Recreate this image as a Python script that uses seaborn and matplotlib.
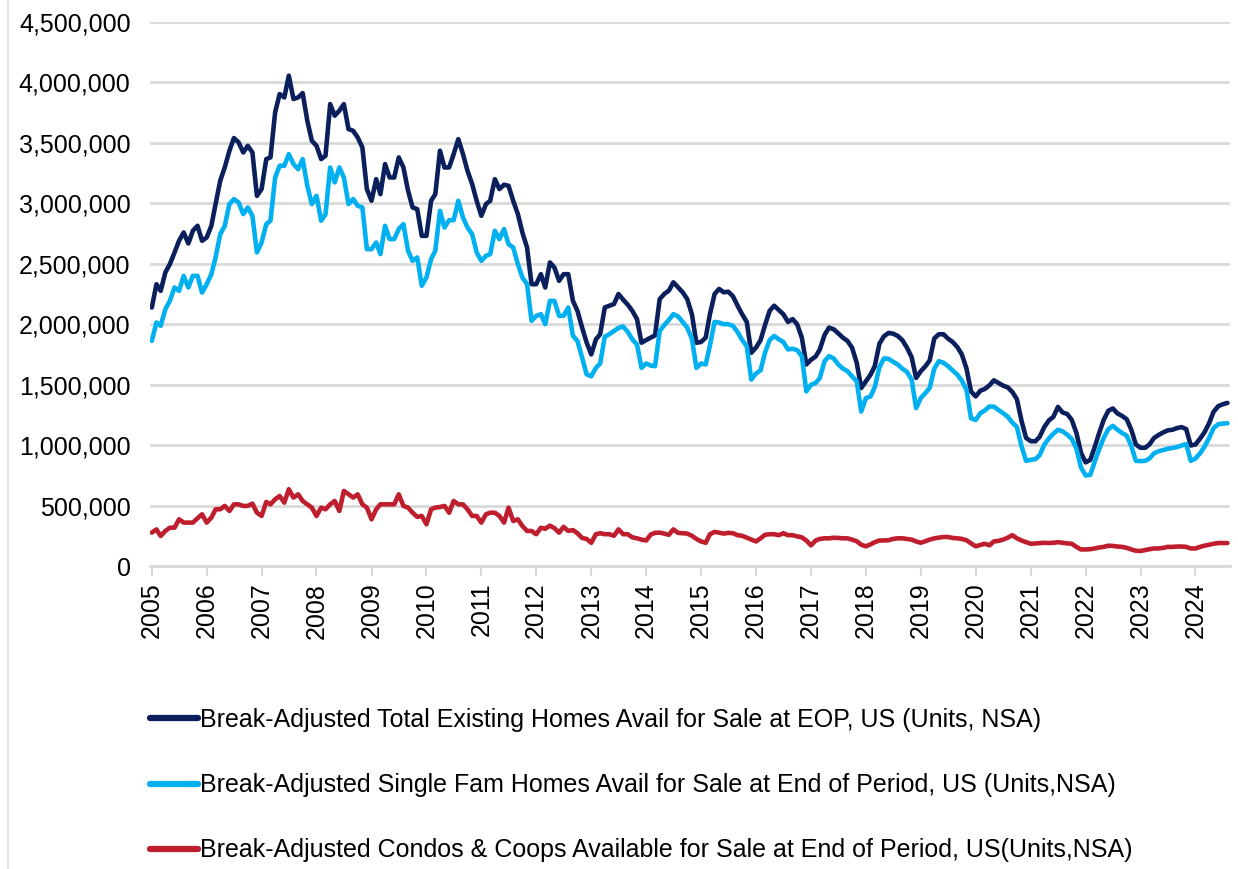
import numpy as np
import pandas as pd
import matplotlib
matplotlib.use("Agg")
import matplotlib.pyplot as plt
import seaborn as sns
from matplotlib.ticker import FuncFormatter
from matplotlib.lines import Line2D

# ---------------- data (thousands of units, monthly from Jan 2005) ----------------
first_month = "2005-01-01"

total_k = [
    2138, 2331, 2276, 2428, 2497, 2593, 2690, 2759, 2668, 2773, 2814, 2690,  # 2005
    2718, 2814, 2994, 3187, 3297, 3435, 3540, 3504, 3421, 3476, 3421, 3062,  # 2006
    3118, 3366, 3380, 3752, 3904, 3876, 4056, 3863, 3876, 3912, 3683, 3518,  # 2007
    3476, 3366, 3394, 3821, 3725, 3766, 3821, 3614, 3600, 3545, 3463, 3118,  # 2008
    3021, 3200, 3076, 3325, 3214, 3214, 3380, 3297, 3104, 2966, 2952, 2731,  # 2009
    2731, 3021, 3076, 3435, 3297, 3297, 3407, 3531, 3407, 3269, 3159, 3021,  # 2010
    2897, 2994, 3021, 3200, 3118, 3154, 3145, 3021, 2911, 2759, 2635, 2331,  # 2011
    2331, 2414, 2304, 2511, 2469, 2359, 2414, 2414, 2193, 2111, 1973, 1849,  # 2012
    1750, 1875, 1917, 2139, 2153, 2167, 2250, 2203, 2161, 2111, 2042, 1847,  # 2013
    1869, 1889, 1908, 2208, 2250, 2278, 2347, 2306, 2264, 2208, 2083, 1847,  # 2014
    1853, 1889, 2083, 2250, 2292, 2264, 2269, 2231, 2153, 2083, 2019, 1764,  # 2015
    1806, 1869, 1992, 2111, 2153, 2117, 2083, 2019, 2042, 2000, 1889, 1667,  # 2016
    1706, 1733, 1792, 1911, 1972, 1958, 1925, 1889, 1861, 1806, 1681, 1472,  # 2017
    1528, 1583, 1653, 1839, 1900, 1928, 1922, 1903, 1867, 1806, 1728, 1556,  # 2018
    1611, 1653, 1700, 1883, 1917, 1917, 1881, 1853, 1811, 1750, 1633, 1444,  # 2019
    1403, 1450, 1464, 1494, 1536, 1514, 1492, 1478, 1439, 1380, 1200, 1060,  # 2020
    1032, 1032, 1068, 1149, 1203, 1235, 1316, 1270, 1257, 1208, 1100, 938,   # 2021
    857, 878, 978, 1100, 1208, 1284, 1303, 1262, 1241, 1214, 1127, 1005,     # 2022
    978, 978, 1005, 1059, 1084, 1105, 1122, 1127, 1141, 1149, 1132, 997,     # 2023
    1005, 1054, 1105, 1181, 1276, 1322, 1338, 1349,                          # 2024
]

single_k = [
    1862, 2014, 1987, 2124, 2193, 2304, 2276, 2400, 2304, 2400, 2400, 2262,  # 2005
    2331, 2414, 2552, 2745, 2814, 2994, 3035, 3007, 2911, 2966, 2897, 2594,  # 2006
    2676, 2828, 2856, 3214, 3311, 3311, 3407, 3325, 3283, 3366, 3145, 2994,  # 2007
    3062, 2856, 2911, 3297, 3173, 3297, 3214, 2994, 3035, 2980, 2966, 2621,  # 2008
    2621, 2676, 2580, 2814, 2704, 2704, 2787, 2828, 2607, 2524, 2552, 2318,  # 2009
    2387, 2538, 2607, 2938, 2800, 2861, 2861, 3021, 2883, 2800, 2745, 2594,  # 2010
    2524, 2566, 2580, 2773, 2704, 2787, 2662, 2635, 2497, 2387, 2331, 2028,  # 2011
    2069, 2083, 2000, 2193, 2193, 2069, 2069, 2138, 1904, 1862, 1724, 1586,  # 2012
    1569, 1639, 1675, 1897, 1917, 1944, 1969, 1981, 1936, 1875, 1833, 1639,  # 2013
    1675, 1658, 1653, 1944, 1992, 2036, 2083, 2064, 2019, 1972, 1880, 1639,  # 2014
    1675, 1667, 1825, 2019, 2014, 2000, 2000, 1986, 1936, 1869, 1819, 1542,  # 2015
    1592, 1619, 1764, 1869, 1903, 1875, 1853, 1792, 1797, 1786, 1736, 1444,  # 2016
    1500, 1514, 1556, 1694, 1736, 1717, 1667, 1633, 1611, 1569, 1528, 1278,  # 2017
    1389, 1403, 1480, 1644, 1717, 1714, 1689, 1667, 1631, 1606, 1542, 1306,  # 2018
    1389, 1431, 1472, 1633, 1694, 1681, 1653, 1617, 1583, 1533, 1458, 1222,  # 2019
    1208, 1264, 1286, 1319, 1319, 1290, 1265, 1235, 1186, 1150, 990, 870,    # 2020
    878, 884, 916, 1003, 1054, 1095, 1127, 1114, 1086, 1051, 970, 816,       # 2021
    749, 754, 857, 965, 1059, 1132, 1159, 1127, 1100, 1078, 992, 870,        # 2022
    868, 870, 889, 932, 949, 959, 970, 976, 984, 997, 1008, 870,             # 2023
    889, 932, 986, 1059, 1141, 1173, 1178, 1181,                             # 2024
]

condo_k = [
    276, 303, 248, 290, 317, 317, 386, 359, 359, 359, 395, 428,  # 2005
    359, 400, 469, 469, 497, 455, 510, 510, 497, 497, 516, 441,  # 2006
    414, 530, 510, 552, 579, 524, 635, 566, 593, 538, 510, 483,  # 2007
    414, 483, 469, 510, 538, 455, 621, 593, 566, 593, 510, 483,  # 2008
    386, 469, 510, 510, 510, 510, 593, 497, 483, 441, 406, 414,  # 2009
    345, 469, 483, 488, 497, 441, 538, 510, 510, 469, 414, 414,  # 2010
    359, 428, 441, 441, 414, 359, 483, 372, 386, 331, 290, 290,  # 2011
    263, 316, 308, 334, 313, 276, 324, 290, 297, 271, 232, 224,  # 2012
    192, 263, 271, 263, 263, 250, 303, 263, 263, 237, 229, 218,  # 2013
    211, 261, 274, 276, 268, 258, 303, 274, 271, 268, 250, 224,  # 2014
    203, 192, 263, 282, 276, 268, 274, 271, 255, 250, 234, 218,  # 2015
    203, 229, 258, 263, 263, 255, 271, 255, 255, 245, 237, 211,  # 2016
    171, 211, 224, 229, 229, 234, 232, 229, 229, 218, 205, 176,  # 2017
    163, 179, 197, 211, 211, 213, 224, 229, 229, 224, 218, 203,  # 2018
    192, 205, 218, 229, 234, 240, 240, 232, 229, 224, 213, 187,  # 2019
    163, 174, 184, 171, 203, 208, 218, 234, 255, 229, 211, 197,  # 2020
    184, 187, 190, 192, 190, 192, 197, 192, 187, 184, 158, 137,  # 2021
    137, 139, 145, 153, 158, 168, 166, 161, 158, 150, 137, 126,  # 2022
    124, 132, 139, 145, 145, 150, 158, 158, 161, 161, 158, 145,  # 2023
    145, 158, 168, 176, 184, 190, 190, 190,                      # 2024
]

series_labels = [
    "Break-Adjusted Total Existing Homes Avail for Sale at EOP, US (Units, NSA)",
    "Break-Adjusted Single Fam Homes Avail for Sale at End of Period, US (Units,NSA)",
    "Break-Adjusted Condos & Coops Available for Sale at End of Period, US(Units,NSA)",
]
series_colors = ["#0A1F5C", "#00B0F0", "#BE1E2D"]
year_ticks = list(range(2005, 2025))
y_ticks = list(range(0, 4500001, 500000))

# ---------------- build long-form frame ----------------
n = len(total_k)
dates = pd.date_range(first_month, periods=n, freq="MS")
df = pd.DataFrame({
    "date": np.concatenate([dates, dates, dates]),
    "value": np.concatenate([total_k, single_k, condo_k]).astype(float) * 1000,
    "series": np.repeat(series_labels, n),
})

# ---------------- style ----------------
sns.set_theme(style="white")
plt.rcParams["font.family"] = ["Liberation Sans", "DejaVu Sans"]
FS = 18

fig = plt.figure(figsize=(12.38, 8.69), dpi=100)
W, H = 1238, 869
ax = fig.add_axes([150 / W, 1 - 566 / H, (1230 - 150) / W, (566 - 22) / H])

sns.lineplot(data=df, x="date", y="value", hue="series", hue_order=series_labels,
             palette=series_colors, linewidth=3.3, estimator=None, legend=False, ax=ax)

ax.set_ylim(0, 4500000)
ax.set_xlim(pd.Timestamp("2004-12-20"), pd.Timestamp("2024-08-18"))
ax.set_yticks(y_ticks)
ax.yaxis.set_major_formatter(FuncFormatter(lambda v, p: f"{int(round(v)):,}"))
ax.set_xticks([pd.Timestamp(f"{y}-01-01") for y in year_ticks])
ax.set_xticklabels([str(y) for y in year_ticks], rotation=90)
ax.set_xlabel("")
ax.set_ylabel("")

ax.grid(axis="y", color="#d9d9d9", linewidth=2.0)
ax.grid(axis="x", visible=False)
ax.set_axisbelow(True)
for s in ["top", "right", "left"]:
    ax.spines[s].set_visible(False)
ax.spines["bottom"].set_color("#d9d9d9")
ax.spines["bottom"].set_linewidth(2.0)
ax.tick_params(axis="x", bottom=True, length=7, width=1.5, color="#d9d9d9",
               pad=5, labelsize=FS, labelcolor="black")
ax.tick_params(axis="y", left=False, length=0, pad=14, labelsize=FS, labelcolor="black")

handles = [Line2D([0], [0], color=c, linewidth=4.5, solid_capstyle="round") for c in series_colors]
leg = fig.legend(handles, series_labels, loc="upper left",
                 bbox_to_anchor=(150 / W, 1 - 708 / H), frameon=False, fontsize=FS,
                 handlelength=1.9, handletextpad=0.12, labelspacing=1.65,
                 borderpad=0, borderaxespad=0)
for t in leg.get_texts():
    t.set_color("black")

fig.add_artist(Line2D([8 / W, 8 / W], [0, 1], color="#e0e0e0", linewidth=1.2))

fig.savefig("out.png", dpi=100)
